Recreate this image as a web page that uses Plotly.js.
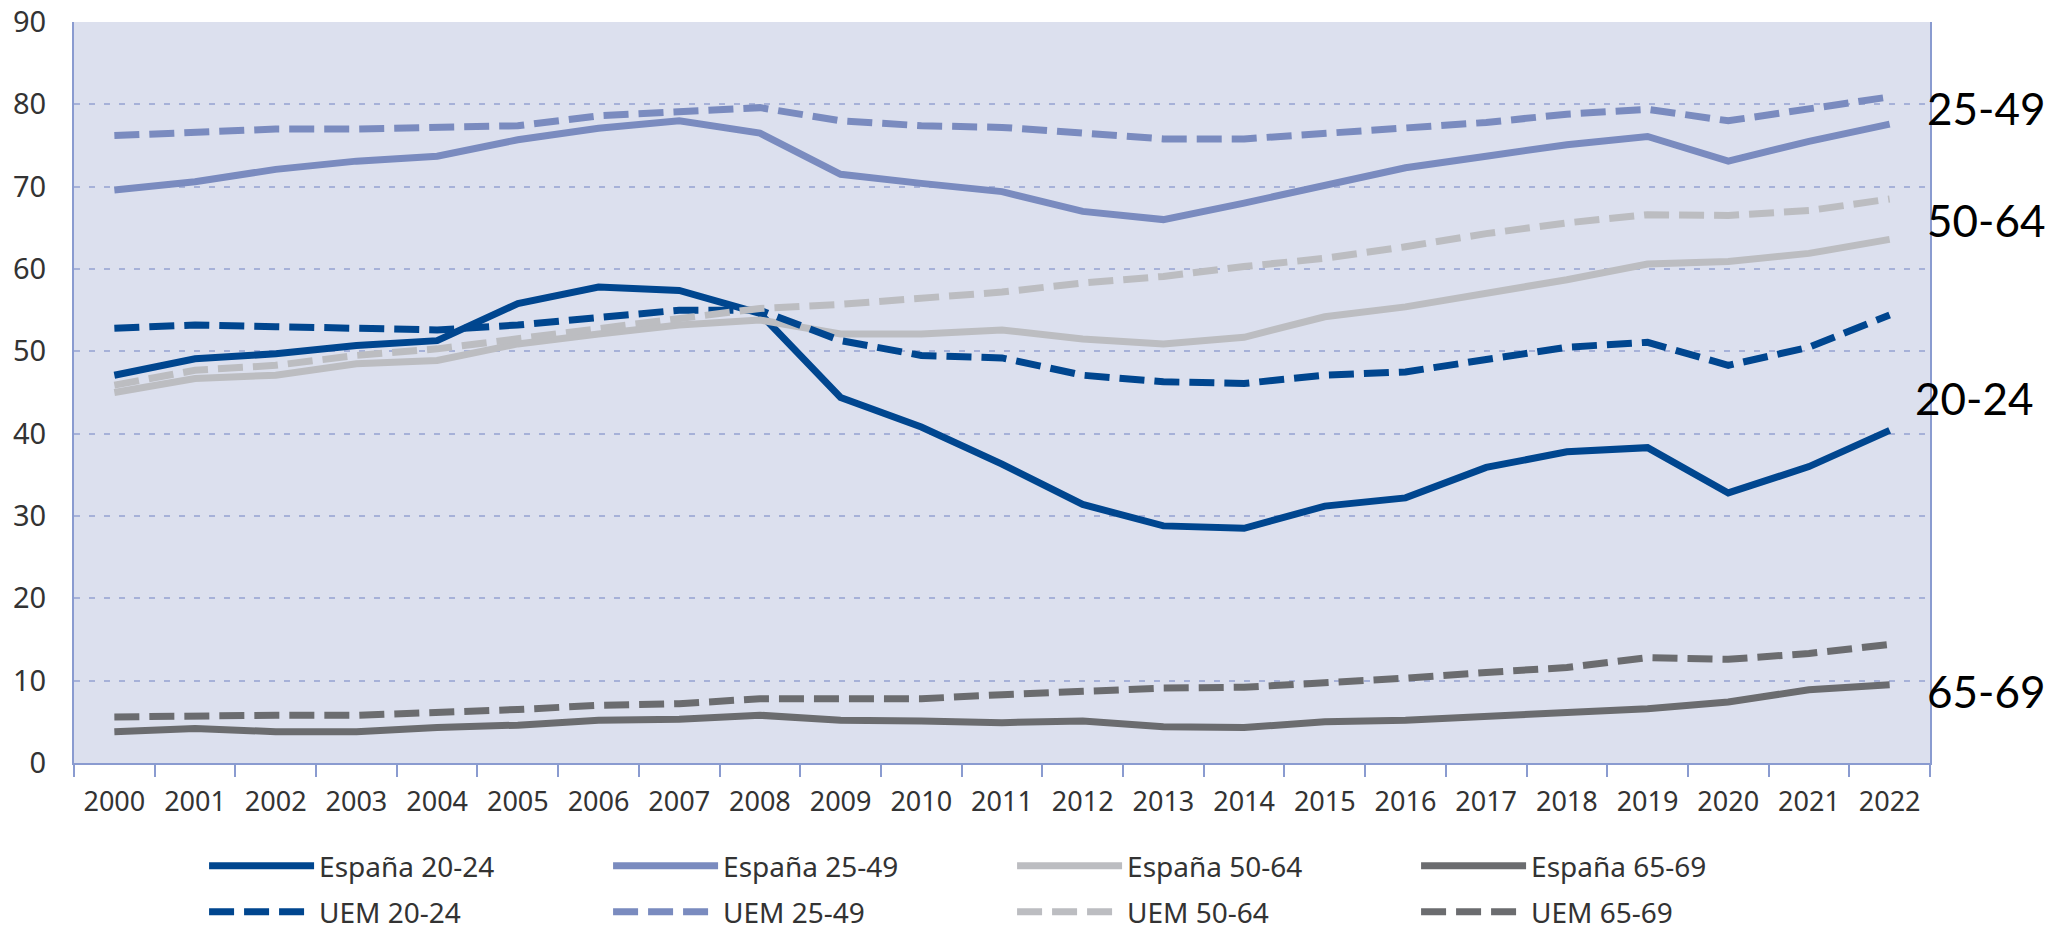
<!DOCTYPE html>
<html>
<head>
<meta charset="utf-8">
<script src="https://cdn.plot.ly/plotly-3.0.1.min.js"></script>
<style>html,body{margin:0;padding:0;background:#fff;}#chart{width:2051px;height:931px;}</style>
</head>
<body>
<div id="chart"></div>
<script>
const years = ['2000','2001','2002','2003','2004','2005','2006','2007','2008','2009','2010','2011','2012','2013','2014','2015','2016','2017','2018','2019','2020','2021','2022'];
const yTicks = [0,10,20,30,40,50,60,70,80,90];

const esp2024 = [47.1, 49.1, 49.7, 50.7, 51.3, 55.8, 57.8, 57.4, 54.6, 44.4, 40.8, 36.3, 31.4, 28.8, 28.5, 31.2, 32.2, 35.9, 37.8, 38.3, 32.8, 36.0, 40.4];
const esp2549 = [69.6, 70.6, 72.1, 73.1, 73.7, 75.7, 77.1, 78.0, 76.5, 71.5, 70.4, 69.4, 67.0, 66.0, 68.0, 70.2, 72.3, 73.7, 75.1, 76.1, 73.1, 75.5, 77.6];
const esp5064 = [45.0, 46.7, 47.1, 48.5, 48.9, 50.9, 52.1, 53.2, 53.8, 52.1, 52.1, 52.6, 51.5, 50.9, 51.7, 54.2, 55.4, 57.0, 58.7, 60.6, 60.9, 61.9, 63.6];
const esp6569 = [3.8, 4.2, 3.8, 3.8, 4.3, 4.6, 5.2, 5.3, 5.8, 5.2, 5.1, 4.9, 5.1, 4.4, 4.3, 5.0, 5.2, 5.6, 6.1, 6.6, 7.4, 8.9, 9.5];

const uem2024 = [52.8, 53.2, 53.0, 52.8, 52.6, 53.2, 54.0, 55.0, 55.0, 51.3, 49.5, 49.2, 47.1, 46.3, 46.1, 47.1, 47.5, 49.1, 50.5, 51.1, 48.3, 50.5, 54.4];
const uem2549 = [76.2, 76.7, 77.0, 77.0, 77.1, 77.4, 78.6, 79.2, 79.6, 78.0, 77.4, 77.2, 76.5, 75.8, 75.8, 76.5, 77.0, 77.8, 78.8, 79.4, 78.0, 79.4, 80.9];
const uem5064 = [45.9, 47.7, 48.3, 49.5, 50.3, 51.5, 52.6, 53.8, 55.2, 55.7, 56.4, 57.2, 58.3, 59.1, 60.3, 61.3, 62.7, 64.3, 65.6, 66.6, 66.5, 67.1, 68.5];
const uem6569 = [5.6, 5.8, 5.8, 5.8, 6.1, 6.5, 7.0, 7.2, 7.8, 7.8, 7.8, 8.3, 8.8, 9.1, 9.2, 9.7, 10.3, 11.0, 11.6, 12.8, 12.6, 13.3, 14.4];

const espNames = ['España 20-24','España 25-49','España 50-64','España 65-69'];
const uemNames = ['UEM 20-24','UEM 25-49','UEM 50-64','UEM 65-69'];
const groupLabels = ['20-24','25-49','50-64','65-69'];
const groupLabelY = [44.3, 79.5, 66.0, 8.8];

const colors = ['#00468f','#7a8bbf','#bcbdc1','#6b6c6f'];
const espData = [esp2024, esp2549, esp5064, esp6569];
const uemData = [uem2024, uem2549, uem5064, uem6569];

const traces = [];
espData.forEach((d, i) => traces.push({
  x: years, y: d, type: 'scatter', mode: 'lines', name: espNames[i],
  line: {color: colors[i], width: 7}, legend: 'legend'
}));
uemData.forEach((d, i) => traces.push({
  x: years, y: d, type: 'scatter', mode: 'lines', name: uemNames[i],
  line: {color: colors[i], width: 7, dash: '25px,10px'}, legend: 'legend2'
}));

const legendCommon = {
  orientation: 'h', xref: 'container', yref: 'container',
  x: 0.0995, xanchor: 'left', yanchor: 'middle',
  entrywidth: 284, entrywidthmode: 'pixels', itemwidth: 105,
  bgcolor: 'rgba(0,0,0,0)', borderwidth: 0,
  font: {family: 'Noto Sans, Open Sans, sans-serif', size: 28, color: '#333333'},
  traceorder: 'normal'
};

const annotations = groupLabels.map((t, i) => ({
  text: t, xref: 'paper', yref: 'y', x: 1, y: groupLabelY[i],
  xanchor: 'left', yanchor: 'middle', xshift: t === '20-24' ? -17 : -5,
  showarrow: false, font: {family: 'Lato, sans-serif', size: 44, color: '#000000'}
}));

const layout = {
  width: 2051, height: 931,
  margin: {l: 74, r: 121, t: 22, b: 168},
  paper_bgcolor: '#ffffff', plot_bgcolor: '#dce0ee',
  showlegend: true,
  xaxis: {
    type: 'category', categoryarray: years, range: [-0.5, years.length - 0.5],
    showgrid: false, zeroline: false,
    showline: true, linecolor: '#8a9bd0', linewidth: 2, mirror: false,
    ticks: 'outside', tickson: 'boundaries', ticklen: 12, tickwidth: 2, tickcolor: '#8a9bd0',
    ticklabelstandoff: 14,
    tickfont: {family: 'Noto Sans, Open Sans, sans-serif', size: 27, color: '#333333'}
  },
  yaxis: {
    range: [0, 90], tickvals: yTicks, ticktext: yTicks.map(String),
    showgrid: true, gridcolor: '#a6b1d8', gridwidth: 2, griddash: '6px,9px',
    zeroline: false,
    showline: true, linecolor: '#8a9bd0', linewidth: 2, mirror: true,
    ticks: '', ticklabelstandoff: 20,
    tickfont: {family: 'Noto Sans, Open Sans, sans-serif', size: 29, color: '#333333'}
  },
  legend: Object.assign({}, legendCommon, {y: 1 - 866/931}),
  legend2: Object.assign({}, legendCommon, {y: 1 - 912/931}),
  annotations: annotations
};

Plotly.newPlot('chart', traces, layout, {displayModeBar: false, staticPlot: true});
</script>
</body>
</html>
